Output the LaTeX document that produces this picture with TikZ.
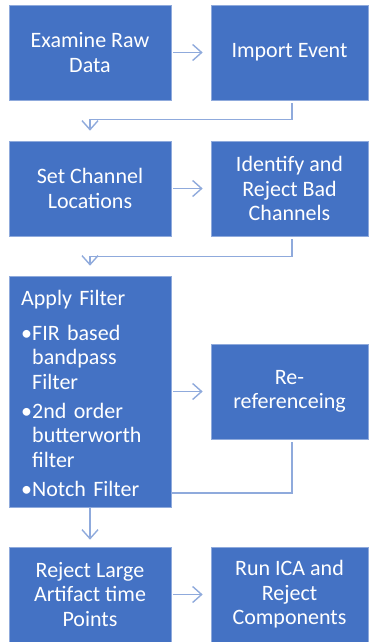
\documentclass[tikz,border=0pt]{standalone}
\usepackage{fontspec}
\setmainfont{Carlito}
\usetikzlibrary{arrows.meta}
\definecolor{boxblue}{RGB}{68,114,196}
\definecolor{linkblue}{RGB}{143,170,220}
\begin{document}
\begin{tikzpicture}[x=1pt,y=-1pt,
  box/.style={draw=linkblue, line width=0.6pt, fill=boxblue, text=white,
    font=\fontsize{22}{24.5}\selectfont, align=center, inner sep=0pt, minimum height=95pt},
  lbox/.style={box, minimum width=162pt},
  rbox/.style={box, minimum width=157pt},
  link/.style={draw=linkblue, line width=1.4pt, -{Straight Barb[length=9pt,width=16pt]}},
  plainlink/.style={draw=linkblue, line width=1.4pt}]
\useasboundingbox (0,0) rectangle (369,642);
\node[lbox] (A) at (90,52.5) {Examine Raw\\Data};
\node[rbox] (B) at (289.5,52.5) {Import Event};
\node[lbox] (C) at (90,188.5) {Set Channel\\Locations};
\node[rbox] (D) at (289.5,188.5) {Identify and\\Reject Bad\\Channels};
\node[lbox, minimum height=231pt] (E) at (90,391.5) {};
\node[anchor=north west, text=white, font=\fontsize{22}{24.5}\selectfont, align=left,
  text width=148pt, inner sep=0pt] (Et) at (21,290)
  {Apply Filter\\[10.5pt]
   \makebox[11pt][l]{•}FIR based\\
   \hspace*{11pt}bandpass\\
   \hspace*{11pt}Filter\\[4.5pt]
   \makebox[11pt][l]{•}2nd order\\
   \hspace*{11pt}butterworth\\
   \hspace*{11pt}filter\\[5pt]
   \makebox[11pt][l]{•}Notch Filter};
\node[rbox] (F) at (289.5,391.5) {Re-\\referenceing};
\node[lbox] (G) at (90,594.5) {Reject Large\\Artifact time\\Points};
\node[rbox] (H) at (289.5,594.5) {Run ICA and\\Reject\\Components};

\draw[link, shorten <=2pt, shorten >=8pt] (A) -- (B);
\draw[link, shorten <=2pt, shorten >=8pt] (C) -- (D);
\draw[link, shorten <=2pt, shorten >=8pt] (E.east |- F.west) -- (F);
\draw[link, shorten <=2pt, shorten >=8pt] (G) -- (H);
\draw[link, shorten >=10pt] ([xshift=2.5pt,yshift=-3pt]B.south) |- ([yshift=21pt]C.north) -- (C.north);
\draw[link, shorten >=10pt] ([xshift=2.5pt,yshift=-3pt]D.south) |- ([yshift=19pt]E.north) -- (E.north);
\draw[plainlink] ([xshift=2.5pt,yshift=-3pt]F.south) |- ([yshift=-101.5pt]E.east);
\draw[link, shorten >=7pt] (E.south) -- (G.north);
\end{tikzpicture}
\end{document}
